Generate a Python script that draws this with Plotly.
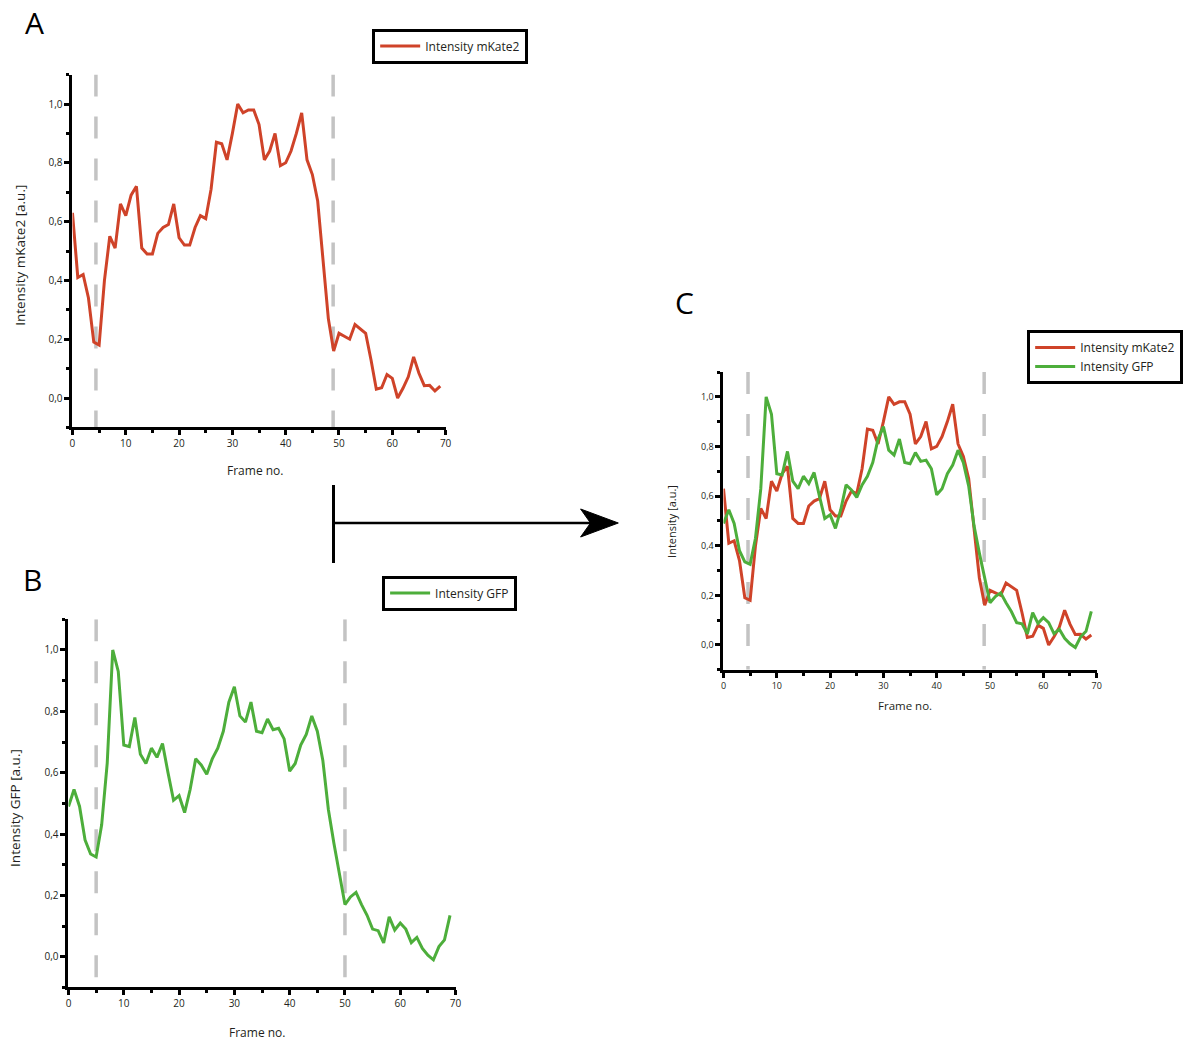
import plotly.graph_objects as go

W, H = 1186, 1042

frames = list(range(70))
mkate2 = [0.63, 0.41, 0.42, 0.34, 0.19, 0.18, 0.40, 0.55, 0.51, 0.66,
          0.62, 0.69, 0.72, 0.51, 0.49, 0.49, 0.56, 0.58, 0.59, 0.66,
          0.545, 0.52, 0.52, 0.58, 0.62, 0.61, 0.71, 0.87, 0.865, 0.81,
          0.90, 1.0, 0.97, 0.98, 0.98, 0.93, 0.81, 0.84, 0.90, 0.79,
          0.80, 0.84, 0.90, 0.97, 0.81, 0.76, 0.67, 0.47, 0.27, 0.16,
          0.22, 0.21, 0.20, 0.25, 0.235, 0.22, 0.13, 0.03, 0.035, 0.08,
          0.067, 0.0, 0.033, 0.072, 0.14, 0.084, 0.042, 0.043, 0.024, 0.04]
gfp = [0.49, 0.545, 0.49, 0.38, 0.335, 0.325, 0.43, 0.63, 1.0, 0.93,
       0.69, 0.685, 0.78, 0.66, 0.63, 0.68, 0.65, 0.695, 0.60, 0.51,
       0.525, 0.47, 0.545, 0.645, 0.625, 0.595, 0.645, 0.68, 0.735, 0.83,
       0.88, 0.785, 0.765, 0.83, 0.735, 0.73, 0.775, 0.74, 0.745, 0.71,
       0.605, 0.63, 0.69, 0.725, 0.785, 0.735, 0.64, 0.48, 0.37, 0.27,
       0.17, 0.195, 0.21, 0.17, 0.135, 0.09, 0.085, 0.045, 0.13, 0.087,
       0.11, 0.09, 0.046, 0.063, 0.027, 0.005, -0.01, 0.033, 0.055, 0.135]
markers_A = [4.4, 48.9]
markers_B = [5.0, 50.0]
markers_C = [4.6, 48.9]
y_ticks = [0.0, 0.2, 0.4, 0.6, 0.8, 1.0]
x_ticks = [0, 10, 20, 30, 40, 50, 60, 70]
name_red = "Intensity mKate2"
name_green = "Intensity GFP"

RED = "#cf4329"
GREEN = "#4dae3b"
DASH = "#c3c3c3"
TXT = "#231f20"
FONT = "Open Sans"


def px_x(x):
    return x / W


def px_y(y):
    return 1 - y / H


fig = go.Figure()

# panel A
fig.add_trace(go.Scatter(x=frames, y=mkate2, mode="lines", name=name_red,
                         line=dict(color=RED, width=3), xaxis="x", yaxis="y",
                         legend="legend", showlegend=True))
# panel B
fig.add_trace(go.Scatter(x=frames, y=gfp, mode="lines", name=name_green,
                         line=dict(color=GREEN, width=3), xaxis="x2", yaxis="y2",
                         legend="legend2", showlegend=True))
# panel C
fig.add_trace(go.Scatter(x=frames, y=mkate2, mode="lines", name=name_red,
                         line=dict(color=RED, width=3), xaxis="x3", yaxis="y3",
                         legend="legend3", showlegend=True))
fig.add_trace(go.Scatter(x=frames, y=gfp, mode="lines", name=name_green,
                         line=dict(color=GREEN, width=3), xaxis="x3", yaxis="y3",
                         legend="legend3", showlegend=True))

# dashed markers
for xr, yr, marks in (("x", "y", markers_A), ("x2", "y2", markers_B), ("x3", "y3", markers_C)):
    for m in marks:
        fig.add_shape(type="line", xref=xr, yref=yr, x0=m, x1=m, y0=1.1, y1=-0.1,
                      line=dict(color=DASH, width=3.5, dash="22px,20px"), layer="below")


def xax(x0, x1, fs):
    return dict(domain=[px_x(x0), px_x(x1)], range=[0, 70], tickvals=x_ticks,
                ticks="outside", ticklen=5, tickwidth=3, tickcolor="black",
                showline=True, linewidth=3, linecolor="black", showgrid=False,
                zeroline=False, tickfont=dict(size=fs, color=TXT, family=FONT),
                minor=dict(dtick=5, tick0=0, ticks="outside", ticklen=3, tickwidth=3,
                           tickcolor="black", showgrid=False),
                fixedrange=True)


def yax(top_px, bot_px, anchor, fs):
    return dict(domain=[px_y(bot_px), px_y(top_px)], range=[-0.1, 1.1], tickvals=y_ticks,
                tickformat=".1f", ticks="outside", ticklen=5, tickwidth=3,
                tickcolor="black", showline=True, linewidth=3, linecolor="black",
                showgrid=False, zeroline=False, anchor=anchor,
                tickfont=dict(size=fs, color=TXT, family=FONT),
                minor=dict(dtick=0.1, tick0=0, ticks="outside", ticklen=3, tickwidth=3,
                           tickcolor="black", showgrid=False),
                fixedrange=True)


def leg(x, ymid):
    return dict(x=px_x(x), y=px_y(ymid), xanchor="left", yanchor="middle",
                bordercolor="black", borderwidth=3, bgcolor="white", itemwidth=40,
                tracegroupgap=0, font=dict(size=12, color=TXT, family=FONT))


lay = dict(
    width=W, height=H, margin=dict(l=0, r=0, t=0, b=0), showlegend=True,
    paper_bgcolor="white", plot_bgcolor="white", separators=",.",
    font=dict(family=FONT, color=TXT),
    xaxis=dict(xax(70, 446, 10), anchor="y"),
    yaxis=yax(74.6, 427.4, "x", 10),
    xaxis2=dict(xax(66, 456, 10), anchor="y2"),
    yaxis2=yax(619.3, 987.4, "x2", 10),
    xaxis3=dict(xax(726, 1102, 9), anchor="y3"),
    yaxis3=yax(372, 669.8, "x3", 9),
    legend=leg(372, 46),
    legend2=leg(382, 593),
    legend3=leg(1032, 357),
)
fig.update_layout(**lay)

annots = [
    ("A", 32, 22, 30, 0),
    ("B", 30, 579, 30, 0),
    ("C", 687, 303, 30, 0),
    ("Frame no.", 254, 470, 12, 0),
    ("Frame no.", 256, 1032, 12, 0),
    ("Frame no.", 909, 705, 11.5, 0),
    ("Intensity mKate2 [a.u.]", 17, 255, 13.5, -90),
    ("Intensity GFP [a.u.]", 12, 808, 13.5, -90),
    ("Intensity [a.u.]", 673, 521, 11, -90),
]
for t, x, y, s, ang in annots:
    fig.add_annotation(text=t, x=px_x(x), y=px_y(y), xref="paper", yref="paper",
                       showarrow=False, textangle=ang, xanchor="center", yanchor="middle",
                       font=dict(size=s, color="black" if s >= 30 else TXT, family=FONT))

# arrow from A/B to C
fig.add_shape(type="line", xref="paper", yref="paper", x0=px_x(333), x1=px_x(333),
              y0=px_y(485), y1=px_y(563), line=dict(color="black", width=3))
fig.add_shape(type="line", xref="paper", yref="paper", x0=px_x(333), x1=px_x(595),
              y0=px_y(523), y1=px_y(523), line=dict(color="black", width=2.5))
path = "M {:.5f} {:.5f} L {:.5f} {:.5f} L {:.5f} {:.5f} L {:.5f} {:.5f} Z".format(
    px_x(582), px_y(509), px_x(620), px_y(523), px_x(582), px_y(537), px_x(592), px_y(523))
fig.add_shape(type="path", xref="paper", yref="paper", path=path,
              fillcolor="black", line=dict(color="black", width=1))

fig.write_html("out.html")
